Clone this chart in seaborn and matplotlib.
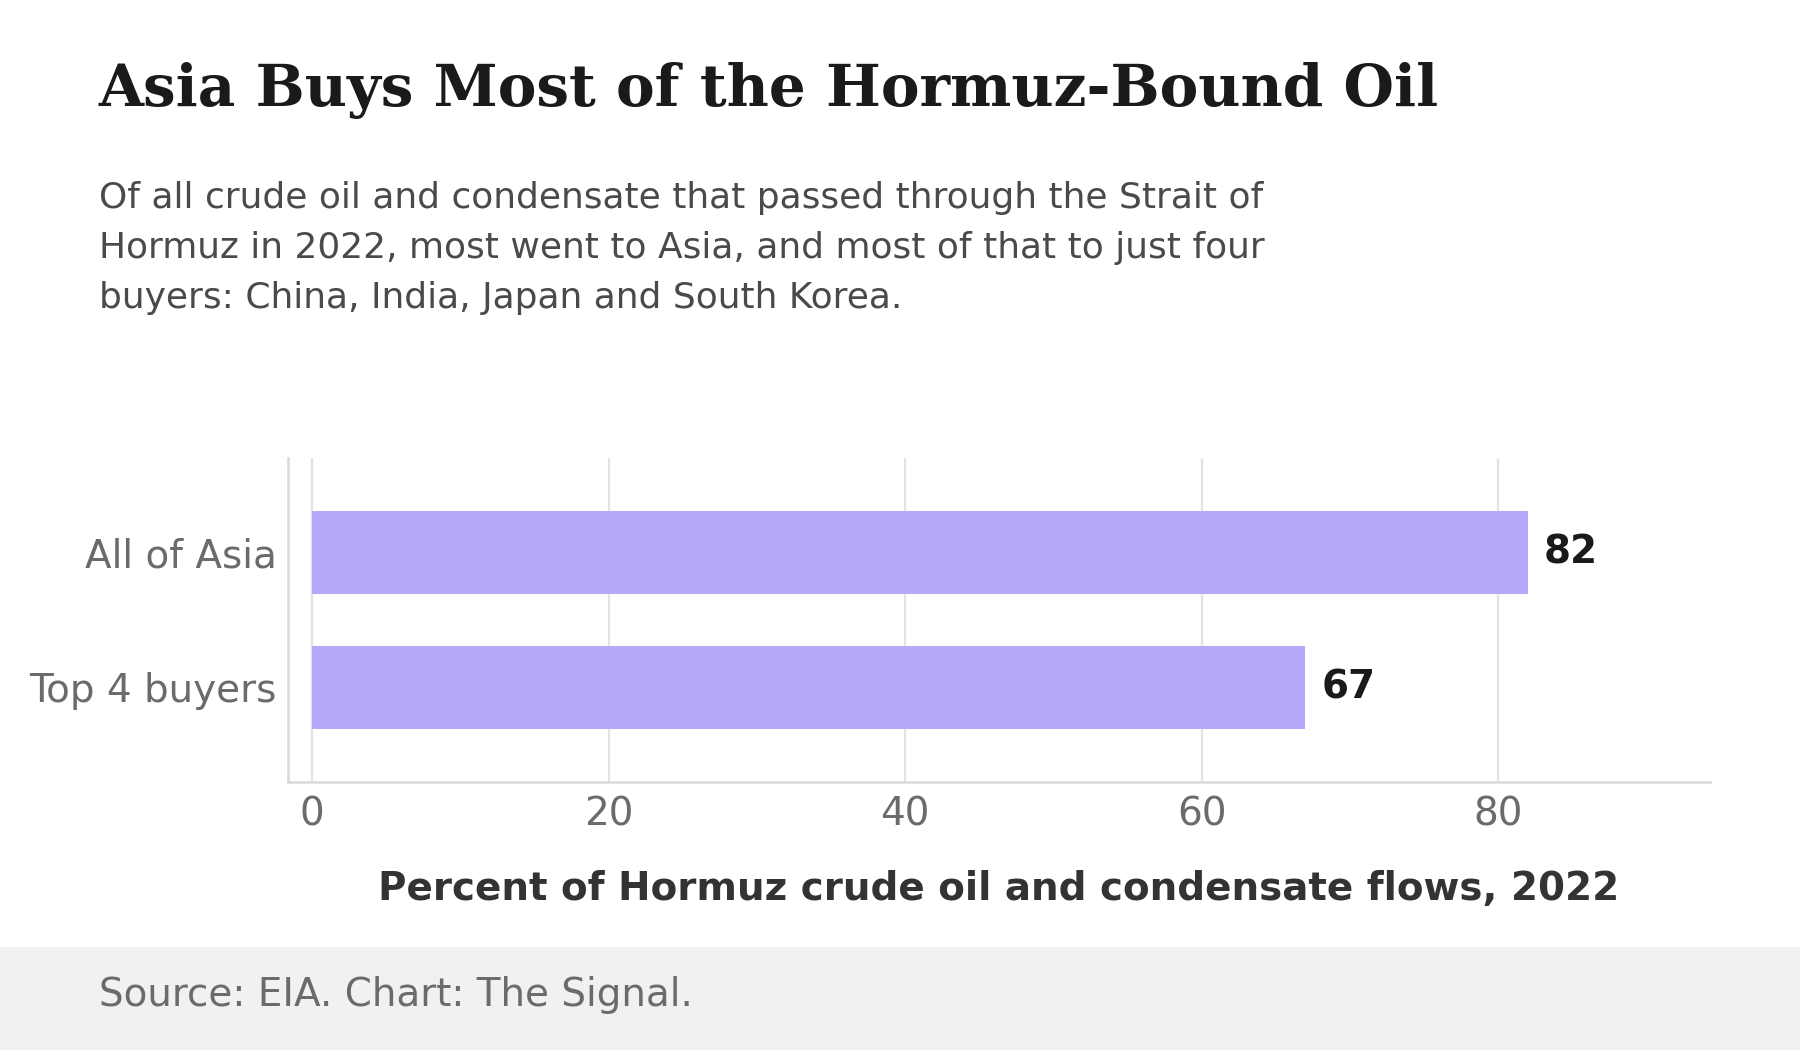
import matplotlib
matplotlib.use("Agg")
import matplotlib.pyplot as plt
import seaborn as sns
import pandas as pd
from matplotlib.patches import Rectangle

categories = ["All of Asia", "Top 4 buyers"]
values = [82, 67]
xticks = [0, 20, 40, 60, 80]

title = "Asia Buys Most of the Hormuz-Bound Oil"
subtitle = ("Of all crude oil and condensate that passed through the Strait of\n"
            "Hormuz in 2022, most went to Asia, and most of that to just four\n"
            "buyers: China, India, Japan and South Korea.")
xlabel = "Percent of Hormuz crude oil and condensate flows, 2022"
source = "Source: EIA. Chart: The Signal."

sns.set_theme(style="white")
plt.rcParams['font.family'] = ['DejaVu Sans']

df = pd.DataFrame({"category": categories, "value": values})

fig = plt.figure(figsize=(9, 5.25), dpi=200)
fig.patch.set_facecolor("white")
fig.patches.append(Rectangle((0, 0), 1, 103 / 1050, transform=fig.transFigure,
                             facecolor="#F2F1F0", edgecolor="none", zorder=0))

ax = fig.add_axes([288 / 1800, 1 - 782 / 1050, (1710 - 288) / 1800, (782 - 458) / 1050])
sns.barplot(data=df, y="category", x="value", orient="h", color="#B8A8FC",
            width=0.62, saturation=1, ax=ax, zorder=3, linewidth=0, edgecolor="none")

ax.set_xlim(-82 * 0.02, 82 * 1.15)
ax.set_ylim(1.7, -0.7)
ax.set_xticks(xticks)
ax.grid(axis="x", color="#E3E3E3", linewidth=0.8, zorder=0)
ax.grid(axis="y", visible=False)
ax.set_axisbelow(True)
for s in ["top", "right"]:
    ax.spines[s].set_visible(False)
for s in ["left", "bottom"]:
    ax.spines[s].set_color("#D9D9D6")
    ax.spines[s].set_linewidth(0.9)
ax.tick_params(axis="both", length=0, labelsize=14, labelcolor="#6B6B6B")
ax.tick_params(axis="y", pad=4)
ax.tick_params(axis="x", pad=5)
ax.set_ylabel("")
ax.set_xlabel(xlabel, fontsize=14, fontweight="bold", color="#333333", labelpad=13)

for i, v in enumerate(values):
    ax.text(v + 1.1, i, f"{v}", va="center", ha="left", fontsize=14,
            fontweight="bold", color="#1A1A1A")

fig.text(99 / 1800, 1 - 106 / 1050, title, fontsize=20.9, fontweight="bold",
         family="DejaVu Serif", color="#1A1A1A", va="baseline", ha="left")
fig.text(99 / 1800, 1 - 181 / 1050, subtitle, fontsize=12.95, color="#4A4A4A",
         va="top", ha="left", linespacing=1.6)
fig.text(99 / 1800, 1 - 995 / 1050, source, fontsize=14, color="#6B6B6B",
         va="center", ha="left")

fig.savefig("out.png", dpi=200, facecolor="white")
